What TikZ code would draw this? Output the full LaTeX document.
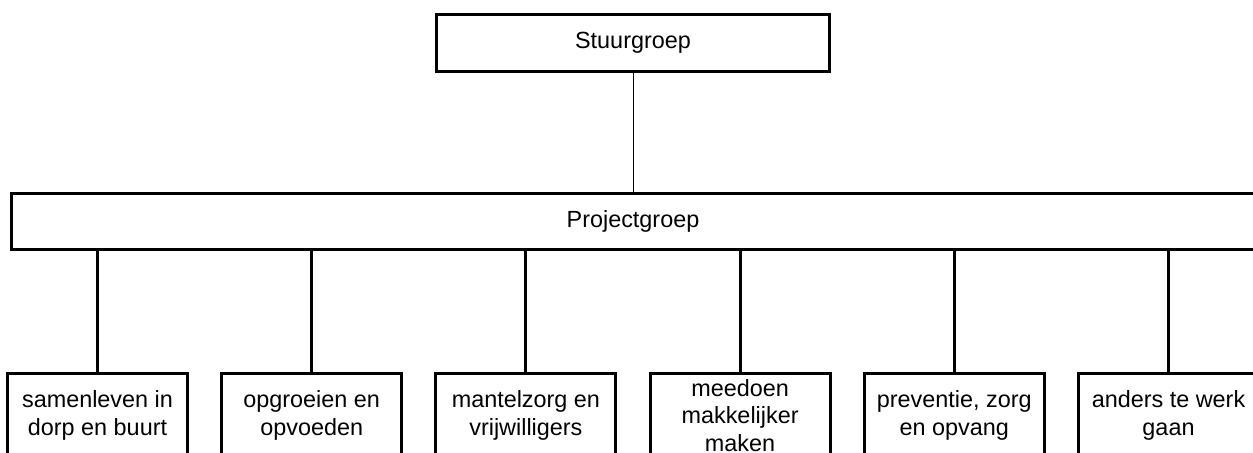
\documentclass[tikz,border=0pt]{standalone}
\usepackage{fontspec}
\setmainfont{Liberation Sans}
\usepackage{tikz}
\usetikzlibrary{calc}
\tikzstyle{groupbox} = [draw,line width=1.5pt,inner sep=0pt,align=center,font=\fontsize{11.7}{13.6}\selectfont]

\begin{document}
\begin{tikzpicture}[
    level 1/.style={level distance=89.25pt,
      edge from parent/.style={draw,line width=0.5pt}},
    level 2/.style={level distance=97pt,sibling distance=107.1pt,
      edge from parent/.style={draw,line width=1.5pt},
      edge from parent path={(\tikzparentnode.south -| \tikzchildnode.north) -- (\tikzchildnode.north)}},
    topbox/.style={groupbox,minimum width=196.5pt,minimum height=28.5pt},
    projbox/.style={groupbox,minimum width=622pt,minimum height=28pt},
    workbox/.style={groupbox,minimum width=90pt,minimum height=42pt},
  ]
  \useasboundingbox (0,0) rectangle (626.5pt,-226pt);
  \clip (0,0) rectangle (626.5pt,-226pt);
  \node[topbox] (stuur) at (316.5pt,-21.5pt) {Stuurgroep}
  child {node[projbox] (project) {Projectgroep}
    child {node[workbox] (samenleven) {samenleven in\\dorp en buurt}}
    child {node[workbox] (opgroeien) {opgroeien en\\opvoeden}}
    child {node[workbox] (mantelzorg) {mantelzorg en\\vrijwilligers}}
    child {node[workbox] (meedoen) {meedoen\\makkelijker\\maken}}
    child {node[workbox] (preventie) {preventie, zorg\\en opvang}}
    child {node[workbox] (anders) {anders te werk\\gaan}}
  }
  ;
\end{tikzpicture}
\end{document}
